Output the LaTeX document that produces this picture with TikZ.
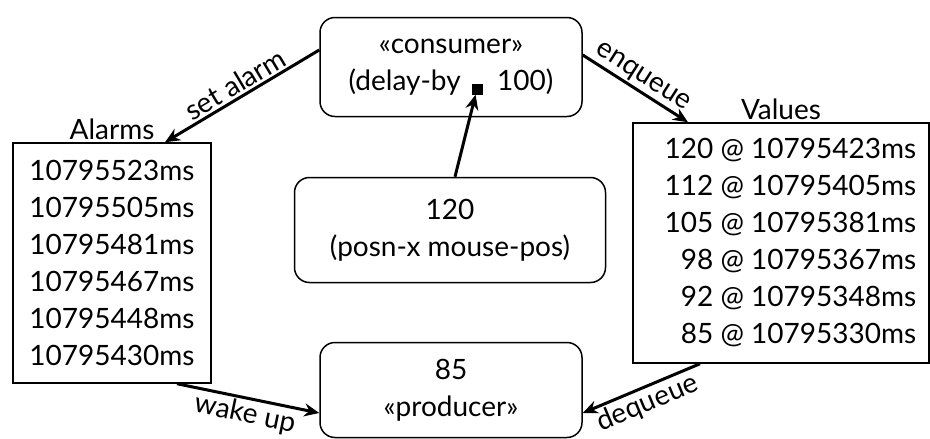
\documentclass[tikz,border=0pt]{standalone}
\usepackage{fontspec}
\setmainfont{Lato}
\usetikzlibrary{arrows, positioning, arrows.meta, fit, shapes}

\begin{document}
\begin{tikzpicture}[x=1pt, y=-1pt, font=\fontsize{28}{37}\selectfont,
    proc/.style={draw, rounded corners=15pt, line width=1.5pt, align=center, inner sep=0pt},
    store/.style={draw, line width=1.5pt, inner sep=0pt, minimum width=198pt, minimum height=240pt},
    flow/.style={line width=3pt, arrows = {-Stealth[length=15pt, width=13pt]}},
    lbl/.style={midway, sloped, inner sep=2pt}]
    \useasboundingbox (0,0) rectangle (930,439);
    % Nodes
    \node[proc, minimum width=262pt, minimum height=99pt] (consumer) at (451,67)
        {«consumer»\\(delay-by\hspace{1.3em}100)};
    \node[fill, inner sep=0pt, minimum size=11pt] (hole) at (477,89) {};
    \node[proc, minimum width=311pt, minimum height=105pt] (posn) at (450,230)
        {120\\(posn-x mouse-pos)};
    \node[proc, minimum width=262pt, minimum height=95pt] (producer) at (451,390)
        {85\\«producer»};
    \node[store] (alarms) at (112,263) {};
    \node[align=center] at (alarms.center) {10795523ms\\10795505ms\\10795481ms\\10795467ms\\10795448ms\\10795430ms};
    \node[above=0pt of alarms, inner sep=2pt] (alarms label) {Alarms};
    \node[store, minimum width=296pt] (values) at (781,243) {};
    \node[align=right, anchor=east] at ([xshift=-10pt]values.east)
        {120 @ 10795423ms\\112 @ 10795405ms\\105 @ 10795381ms\\98 @ 10795367ms\\92 @ 10795348ms\\85 @ 10795330ms};
    \node[above=0pt of values, inner sep=2pt] (values label) {Values};

    % Connections
    \draw[flow] (consumer.west |- 0,50) -- (alarms.north -| 165,0)
        node[lbl, above] {set alarm};
    \draw[flow] (consumer.east |- 0,55) -- (values.north -| 688,0)
        node[lbl, above] {enqueue};
    \draw[flow] (posn.north -| 455,0) -- (hole);
    \draw[flow] (alarms.south -| 177,0) -- (producer.west |- 0,413)
        node[lbl, below] {wake up};
    \draw[flow] (values.south -| 700,0) -- (producer.east |- 0,413)
        node[lbl, below] {dequeue};
\end{tikzpicture}
\end{document}
